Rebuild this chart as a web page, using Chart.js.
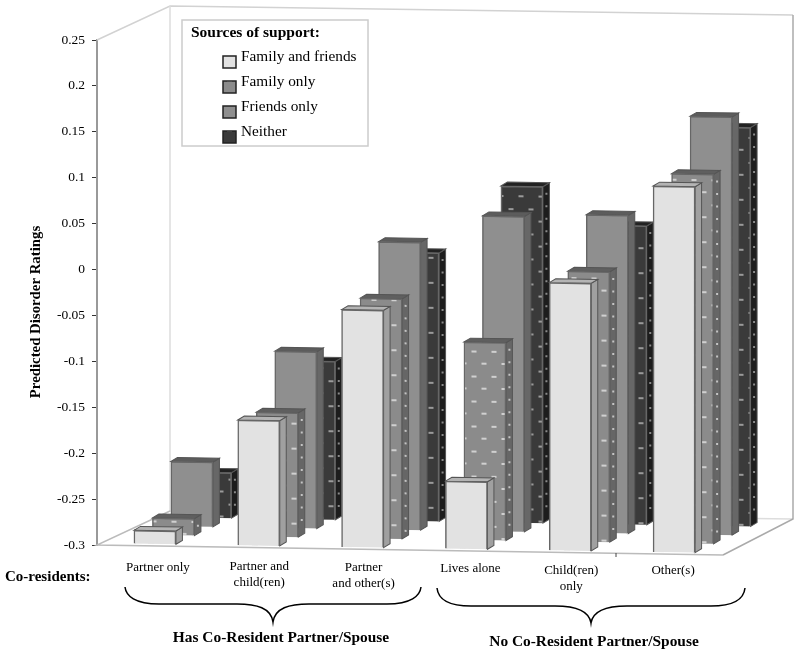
<!DOCTYPE html>
<html>
<head>
<meta charset="utf-8">
<script src="https://cdn.jsdelivr.net/npm/chart.js@4"></script>
<style>
  body { margin: 0; background: #fff; }
</style>
</head>
<body>
<canvas id="myChart" width="800" height="655"></canvas>
<script>
// Categories and values
var categories = [
    'Partner only',
    ['Partner and', 'child(ren)'],
    ['Partner', 'and other(s)'],
    'Lives alone',
    ['Child(ren)', 'only'],
    'Other(s)'
];
var familyAndFriends = [-0.285, -0.163, -0.041, -0.226, -0.008, 0.099];
var familyOnly = [-0.281, -0.164, -0.038, -0.084, -0.005, 0.103];
var friendsOnly = [-0.229, -0.107, 0.014, 0.044, 0.047, 0.156];
var neither = [-0.25, -0.127, -0.007, 0.067, 0.026, 0.135];
var seriesNames = ['Family and friends', 'Family only', 'Friends only', 'Neither'];

// Fake 3D look: every row sits further back and the floor tilts a little
var rowDx = [6, 24.5, 43, 61.5];
var rowDy = [-1.5, -10.5, -19.5, -28.5];
var floorTilt = 0.016;
var sideDx = 6.5;
var sideDy = -4;
var sideColors = ['#a0a0a0', '#666666', '#676767', '#1d1d1d'];
var topColors = ['#b4b4b4', '#5f5f5f', '#5c5c5c', '#222222'];
var sideDots = [null, '#c4c4c4', null, '#8a8a8a'];

// Nudge of each tick label, the labels follow the tilted floor
var labelShiftX = [0, -2.5, -2, 1, -2, -4];
var labelShiftY = [1, 0, 1, 2, 4, 4];

var serif = '"Liberation Serif", serif';

// dotted fill for the patterned bars
function dotPattern(base, dot) {
    var c = document.createElement('canvas');
    c.width = 40;
    c.height = 25;
    var p = c.getContext('2d');
    p.fillStyle = base;
    p.fillRect(0, 0, 40, 25);
    p.fillStyle = dot;
    p.fillRect(7, 5, 5, 2);
    p.fillRect(27, 5, 5, 2);
    p.fillRect(17, 17, 5, 2);
    p.fillRect(37, 17, 3, 2);
    p.fillRect(0, 17, 2, 2);
    return document.createElement('canvas').getContext('2d').createPattern(c, 'repeat');
}

var fillFamily = dotPattern('#8b8b8b', '#d0d0d0');
var fillNeither = dotPattern('#3a3a3a', '#9a9a9a');

function rowTransform(ctx, i) {
    ctx.transform(1, floorTilt, 0, 1, rowDx[i], rowDy[i] + floorTilt * (rowDx[i] - 97));
}

function line(ctx, color, points) {
    ctx.strokeStyle = color;
    ctx.beginPath();
    points.forEach(function (p, i) {
        if (i == 0) { ctx.moveTo(p[0], p[1]); } else { ctx.lineTo(p[0], p[1]); }
    });
    ctx.stroke();
}

// Walls, floor, braces and captions
var scenePlugin = {
    id: 'scene',
    afterLayout: function (chart) {
        var items = chart.scales.x.getLabelItems(chart.chartArea);
        items.forEach(function (item, i) {
            item.options.translation[0] += labelShiftX[i];
            item.options.translation[1] += labelShiftY[i];
        });
    },
    beforeDatasetsDraw: function (chart) {
        var ctx = chart.ctx;
        ctx.save();
        ctx.lineWidth = 1.5;
        line(ctx, '#d2d2d2', [[97, 40], [170, 6], [793, 15]]);
        line(ctx, '#dddddd', [[170, 6], [170, 511], [793, 519]]);
        line(ctx, '#aaaaaa', [[793, 15], [793, 519], [723, 555]]);
        line(ctx, '#bbbbbb', [[723, 555], [97, 545], [170, 511]]);
        ctx.restore();
    },
    beforeDatasetDraw: function (chart, args) {
        var ctx = chart.ctx;
        var i = args.index;
        ctx.save();
        rowTransform(ctx, i);
        args.meta.data.forEach(function (bar) {
            var b = bar.getProps(['x', 'y', 'base', 'width'], true);
            var l = b.x - b.width / 2;
            var r = b.x + b.width / 2;
            ctx.lineWidth = 1;
            ctx.strokeStyle = '#555555';
            // right side
            ctx.fillStyle = sideColors[i];
            ctx.beginPath();
            ctx.moveTo(r, b.y);
            ctx.lineTo(r + sideDx, b.y + sideDy);
            ctx.lineTo(r + sideDx, b.base + sideDy);
            ctx.lineTo(r, b.base);
            ctx.closePath();
            ctx.fill();
            ctx.stroke();
            if (sideDots[i]) {
                ctx.fillStyle = sideDots[i];
                for (var y = b.y + 6; y < b.base - 6; y += 12.5) {
                    ctx.fillRect(r + 2.5, y, 2, 2);
                }
            }
            // top
            ctx.fillStyle = topColors[i];
            ctx.beginPath();
            ctx.moveTo(l, b.y);
            ctx.lineTo(l + sideDx, b.y + sideDy);
            ctx.lineTo(r + sideDx, b.y + sideDy);
            ctx.lineTo(r, b.y);
            ctx.closePath();
            ctx.fill();
            ctx.stroke();
        });
    },
    afterDatasetDraw: function (chart) {
        chart.ctx.restore();
    },
    afterDraw: function (chart) {
        var ctx = chart.ctx;
        ctx.save();

        // y axis title
        ctx.fillStyle = '#000';
        ctx.textBaseline = 'middle';
        ctx.textAlign = 'center';
        ctx.font = 'bold 14.8px ' + serif;
        ctx.save();
        ctx.translate(36, 312);
        ctx.rotate(-Math.PI / 2);
        ctx.fillText('Predicted Disorder Ratings', 0, 0);
        ctx.restore();

        // captions under the axis
        ctx.font = 'bold 15px ' + serif;
        ctx.textAlign = 'left';
        ctx.fillText('Co-residents:', 5, 577);
        ctx.font = 'bold 15.4px ' + serif;
        ctx.textAlign = 'center';
        ctx.fillText('Has Co-Resident Partner/Spouse', 281, 638);
        ctx.fillText('No Co-Resident Partner/Spouse', 594, 642);

        // braces
        brace(ctx, 125, 421, 273, 587, 604, 622);
        brace(ctx, 437, 745, 591, 588, 606, 623);

        // legend box
        ctx.strokeStyle = '#cccccc';
        ctx.lineWidth = 1.5;
        ctx.fillStyle = '#fff';
        ctx.fillRect(182, 20, 186, 126);
        ctx.strokeRect(182, 20, 186, 126);
        ctx.fillStyle = '#000';
        ctx.textAlign = 'left';
        ctx.font = 'bold 15.5px ' + serif;
        ctx.fillText('Sources of support:', 191, 33);
        ctx.font = '15.3px ' + serif;
        chart.data.datasets.forEach(function (ds, i) {
            var y = 56 + i * 25;
            ctx.fillStyle = ds.backgroundColor;
            ctx.strokeStyle = '#222';
            ctx.lineWidth = 1.5;
            ctx.fillRect(223, y, 13, 12);
            ctx.strokeRect(223, y, 13, 12);
            ctx.fillStyle = '#000';
            ctx.fillText(ds.label, 241, y + 1);
        });

        // lone tick on the front edge
        ctx.lineWidth = 1;
        line(ctx, '#444', [[616, 553], [616, 557]]);
        ctx.restore();
    }
};

function brace(ctx, x1, x2, tip, top, mid, bottom) {
    ctx.strokeStyle = '#000';
    ctx.lineWidth = 1.5;
    ctx.beginPath();
    ctx.moveTo(x1, top);
    ctx.bezierCurveTo(x1 + 1, mid - 8, x1 + 10, mid, x1 + 34, mid);
    ctx.lineTo(tip - 36, mid);
    ctx.bezierCurveTo(tip - 16, mid, tip - 2, mid + 4, tip, bottom);
    ctx.bezierCurveTo(tip + 2, mid + 4, tip + 16, mid, tip + 36, mid);
    ctx.lineTo(x2 - 34, mid);
    ctx.bezierCurveTo(x2 - 10, mid, x2 - 1, mid - 8, x2, top);
    ctx.stroke();
}

function barSet(label, values, fill) {
    return {
        label: label,
        data: values,
        base: -0.3,
        backgroundColor: fill,
        borderColor: '#666666',
        borderWidth: 1.5,
        barThickness: 42,
        grouped: false,
        clip: false
    };
}

var chart = new Chart(document.getElementById('myChart'), {
    type: 'bar',
    data: {
        labels: categories,
        datasets: [
            barSet(seriesNames[0], familyAndFriends, '#e2e2e2'),
            barSet(seriesNames[1], familyOnly, fillFamily),
            barSet(seriesNames[2], friendsOnly, '#8f8f8f'),
            barSet(seriesNames[3], neither, fillNeither)
        ]
    },
    options: {
        responsive: false,
        animation: false,
        layout: { padding: { top: 40, right: 80 } },
        plugins: {
            legend: { display: false },
            tooltip: { enabled: false }
        },
        scales: {
            x: {
                border: { display: false },
                grid: { display: false },
                ticks: {
                    color: '#000',
                    font: { family: serif, size: 13 },
                    maxRotation: 0,
                    autoSkip: false,
                    labelOffset: 9,
                    padding: 6
                },
                afterFit: function (s) { s.height = 110; }
            },
            y: {
                min: -0.3,
                max: 0.25,
                border: { color: '#999999', width: 2 },
                grid: { drawOnChartArea: false, color: '#333333', tickLength: 5 },
                ticks: {
                    stepSize: 0.05,
                    color: '#000',
                    font: { family: serif, size: 13.5 },
                    padding: 7,
                    callback: function (v) { return String(Number(v.toFixed(2))); }
                },
                afterFit: function (s) { s.width = 97; }
            }
        }
    },
    plugins: [scenePlugin]
});
</script>
</body>
</html>
